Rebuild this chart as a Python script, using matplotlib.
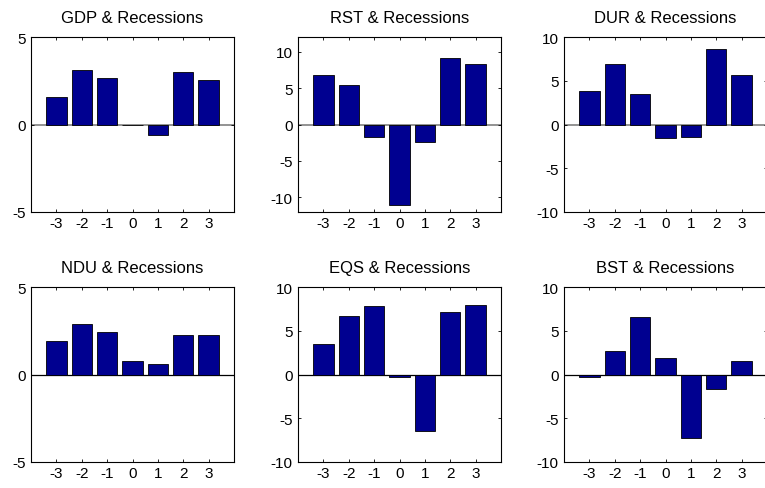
import matplotlib
matplotlib.use('Agg')
import matplotlib.pyplot as plt

plt.rcParams['font.family'] = ['Liberation Sans', 'DejaVu Sans']
plt.rcParams['axes.unicode_minus'] = False

# Du lieu doc tu hinh
lags = [-3, -2, -1, 0, 1, 2, 3]
names = ['GDP', 'RST', 'DUR', 'NDU', 'EQS', 'BST']
gdp = [1.59, 3.10, 2.68, -0.05, -0.61, 3.00, 2.54]
rst = [6.77, 5.45, -1.73, -11.0, -2.45, 9.18, 8.27]
dur = [3.79, 6.96, 3.52, -1.53, -1.41, 8.68, 5.70]
ndu = [1.93, 2.88, 2.41, 0.76, 0.61, 2.23, 2.23]
eqs = [3.43, 6.74, 7.85, -0.30, -6.40, 7.20, 8.00]
bst = [-0.30, 2.70, 6.55, 1.87, -7.20, -1.71, 1.60]
series = [gdp, rst, dur, ndu, eqs, bst]
ylims = [(-5, 5), (-12, 12), (-10, 10), (-5, 5), (-10, 10), (-10, 10)]
yticks = [[-5, 0, 5], [-10, -5, 0, 5, 10], [-10, -5, 0, 5, 10],
          [-5, 0, 5], [-10, -5, 0, 5, 10], [-10, -5, 0, 5, 10]]

fig = plt.figure(figsize=(7.65, 4.89), dpi=100)

lefts = [31, 298, 564]
tops = [38, 288]
W, H = 765.0, 489.0
aw, ah = 203, 175

for i, (name, vals) in enumerate(zip(names, series)):
    r, c = divmod(i, 3)
    ax = fig.add_axes([lefts[c] / W, (H - tops[r] - ah) / H, aw / W, ah / H])
    base_col = '#808080' if r == 0 else 'black'
    ax.axhline(0, color=base_col, linewidth=1.2 if r == 0 else 0.9, zorder=1)
    ax.bar(lags, vals, width=0.8, color='#000090', edgecolor='black', linewidth=0.6, zorder=2)
    ax.set_xlim(-4, 4)
    ax.set_ylim(*ylims[i])
    ax.set_xticks(lags)
    ax.set_yticks(yticks[i])
    ax.tick_params(direction='in', length=2.5, width=0.6, top=True, right=True,
                   labelsize=11, colors='black')
    ax.tick_params(axis='x', pad=3)
    ax.tick_params(axis='y', pad=4)
    for s in ax.spines.values():
        s.set_linewidth(0.8)
    ax.set_title(name + ' & Recessions', fontsize=12, pad=11)

plt.savefig('out.png', dpi=100)
plt.close()
